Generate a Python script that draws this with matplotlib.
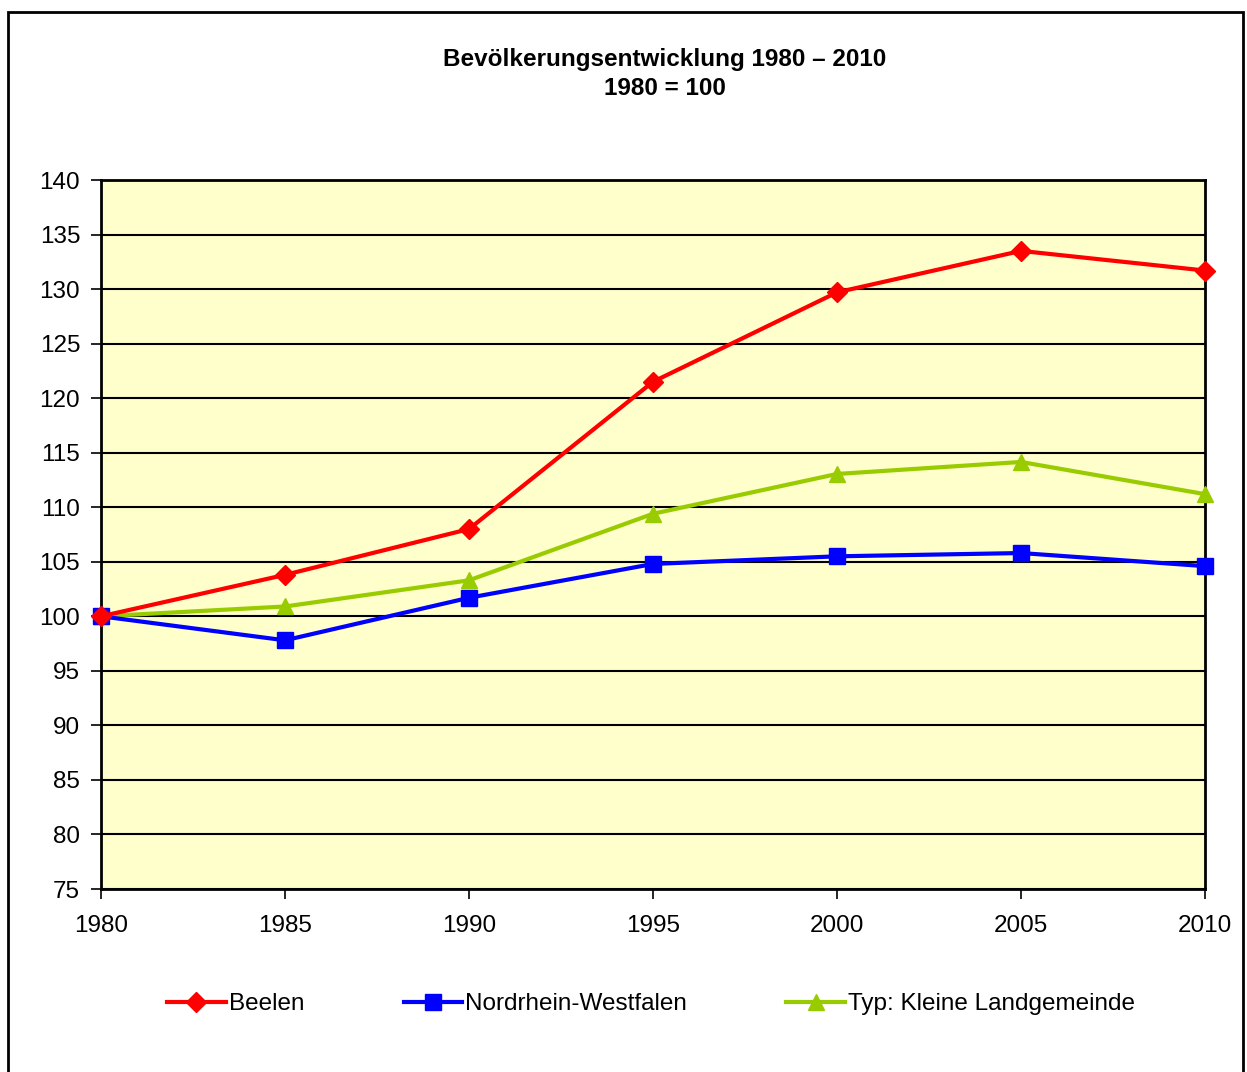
import matplotlib
matplotlib.use("Agg")
import matplotlib.pyplot as plt
from matplotlib.patches import Rectangle

plt.rcParams['font.family'] = ['Liberation Sans', 'DejaVu Sans']

years = [1980, 1985, 1990, 1995, 2000, 2005, 2010]
beelen = [100.0, 103.8, 108.0, 121.5, 129.7, 133.5, 131.7]
nrw = [100.0, 97.8, 101.7, 104.8, 105.5, 105.8, 104.6]
typ = [100.0, 100.9, 103.3, 109.4, 113.05, 114.15, 111.2]
series_names = ["Beelen", "Nordrhein-Westfalen", "Typ: Kleine Landgemeinde"]
title = "Bevölkerungsentwicklung 1980 – 2010\n1980 = 100"

W, H = 1247, 1072
fig = plt.figure(figsize=(W/100, H/100), dpi=100)
ax = fig.add_axes([101/W, 1-889/H, (1205-101)/W, (889-180)/H])
ax.set_facecolor('#FFFFCC')

ax.plot(years, beelen, color='#FF0000', lw=3, marker='D', ms=10, label=series_names[0], zorder=5, clip_on=False)
ax.plot(years, nrw, color='#0000FF', lw=3, marker='s', ms=12, label=series_names[1], zorder=4, clip_on=False)
ax.plot(years, typ, color='#99CC00', lw=3, marker='^', ms=12, label=series_names[2], zorder=3, clip_on=False)

ax.set_xlim(1980, 2010)
ax.set_ylim(75, 140)
ax.set_xticks(years)
ax.set_yticks(range(75, 141, 5))
ax.yaxis.grid(True, color='black', lw=1.5)
ax.set_axisbelow(True)
for s in ax.spines.values():
    s.set_linewidth(2)
    s.set_color('black')
ax.tick_params(axis='both', direction='out', length=7, width=1.2, labelsize=17.5, colors='black')
ax.tick_params(axis='x', pad=12)
ax.tick_params(axis='y', pad=8)

fig.text(665/W, 1-74/H, title, ha='center', va='center', fontsize=17.5, fontweight='bold', linespacing=1.35)

fig.legend(loc='center', bbox_to_anchor=(651/W, 1-1004/H), ncol=3, frameon=False, fontsize=17.5,
           handlelength=2.4, columnspacing=4.1, handletextpad=0.12)

fig.add_artist(Rectangle((8/W, -0.02), (1243-8)/W, 1.02-12/H, transform=fig.transFigure,
                         fill=False, edgecolor='black', lw=2))

fig.savefig('out.png', dpi=100, facecolor='white')
